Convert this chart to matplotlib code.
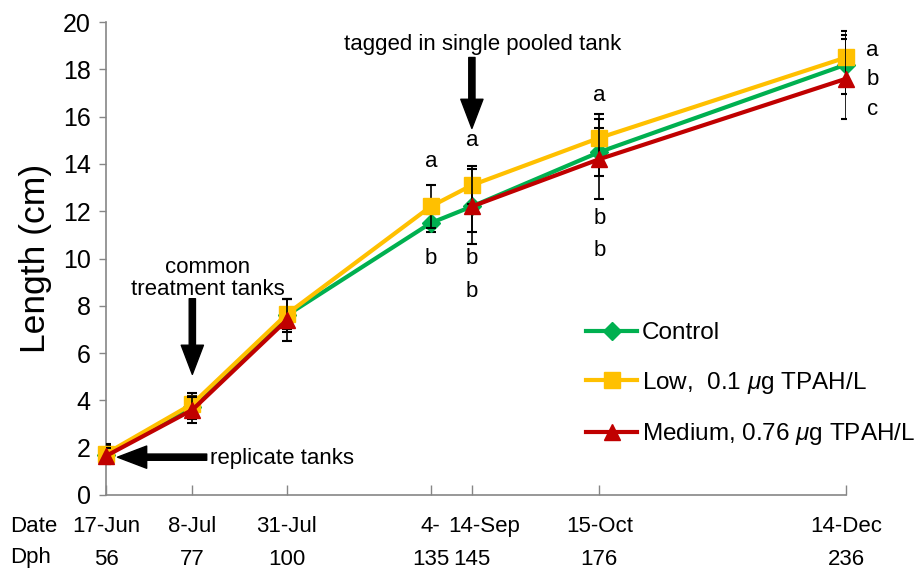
import numpy as np
import matplotlib
matplotlib.use("Agg")
import matplotlib.pyplot as plt

plt.rcParams['font.family'] = ['Liberation Sans', 'DejaVu Sans']
plt.rcParams['mathtext.fontset'] = 'custom'
plt.rcParams['mathtext.it'] = 'Liberation Sans:italic'

# data
dph = [56, 77, 100, 135, 145, 176, 236]
dates = ['17-Jun', '8-Jul', '31-Jul', '4-', '14-Sep', '15-Oct', '14-Dec']

control = [1.7, 3.7, 7.6, 11.5, 12.2, 14.5, 18.2]
low = [1.75, 3.85, 7.65, 12.2, 13.1, 15.1, 18.5]
medium = [1.65, 3.6, 7.4, np.nan, 12.2, 14.2, 17.6]

control_err = [0.4, 0.5, 0.7, 0.4, 1.1, 1.0, 1.25]
low_err = [0.4, 0.45, 0.65, 0.9, 0.8, 1.0, 1.1]
medium_err = [0.35, 0.55, 0.9, np.nan, 1.6, 1.7, 1.7]

# significance letters
letter_x = [135, 135, 145, 145, 145, 176, 176, 176, 242.5, 242.5, 242.5]
letter_y = [14.1, 10.0, 15.0, 10.0, 8.6, 16.9, 11.7, 10.35, 18.8, 17.55, 16.3]
letter_txt = ['a', 'b', 'a', 'b', 'b', 'a', 'b', 'b', 'a', 'b', 'c']

green = '#00B050'
yellow = '#FFC000'
red = '#C00000'
gray = '#868686'

fig = plt.figure(figsize=(9.19, 5.70), dpi=100)
ax = fig.add_axes([106/919, 75/570, 740/919, 473/570])

series = [
    (control, control_err, green, 'D', 9, 'Control'),
    (low, low_err, yellow, 's', 11, 'Low,  0.1 $\\mu$g TPAH/L'),
    (medium, medium_err, red, '^', 12, 'Medium, 0.76 $\\mu$g TPAH/L'),
]
for i, (vals, err, col, mk, ms, lab) in enumerate(series):
    ax.errorbar(dph, vals, yerr=err, fmt='none', ecolor='black', elinewidth=1.2,
                capsize=3.5, capthick=1.5, zorder=2 + i)
    ax.plot(dph, vals, color=col, lw=3, marker=mk, ms=ms, label=lab,
            clip_on=False, zorder=3 + i)

ax.set_xlim(56, 236)
ax.set_ylim(0, 20)
ax.set_yticks(np.arange(0, 21, 2))
ax.tick_params(axis='y', labelsize=18, color=gray, length=5, width=1, pad=6)
ax.set_xticks(dph)
ax.set_xticklabels([str(d) for d in dph])
ax.tick_params(axis='x', labelsize=16, color=gray, direction='in', length=7,
               width=1, pad=39)
for s in ['top', 'right']:
    ax.spines[s].set_visible(False)
for s in ['left', 'bottom']:
    ax.spines[s].set_color(gray)
    ax.spines[s].set_linewidth(1.2)
ax.set_ylabel('Length (cm)', fontsize=25.5, labelpad=8)

# date row
for d, lab in zip(dph, dates):
    dx = 9 if lab == '14-Sep' else 0
    ax.annotate(lab, xy=(d, 0), xycoords=('data', 'axes fraction'),
                xytext=(dx, -23), textcoords='offset points',
                ha='center', va='center', fontsize=16)
fig.text(10/919, 1 - 526/570, 'Date', fontsize=16, ha='left', va='center')
fig.text(10/919, 1 - 557/570, 'Dph', fontsize=16, ha='left', va='center')

for x, y, t in zip(letter_x, letter_y, letter_txt):
    ax.text(x, y, t, fontsize=16, ha='center', va='center')

arrow = 'simple,head_length=2.1,head_width=1.6,tail_width=0.45'
ax.annotate('', xy=(77, 5.1), xytext=(77, 8.3),
            arrowprops=dict(arrowstyle=arrow, color='black', mutation_scale=10,
                            shrinkA=0, shrinkB=0))
ax.annotate('', xy=(145, 15.5), xytext=(145, 18.5),
            arrowprops=dict(arrowstyle=arrow, color='black', mutation_scale=10,
                            shrinkA=0, shrinkB=0), annotation_clip=False)
ax.annotate('', xy=(58.8, 1.6), xytext=(80.5, 1.6),
            arrowprops=dict(arrowstyle=arrow, color='black', mutation_scale=10,
                            shrinkA=0, shrinkB=0))
ax.text(80.8, 9.6, 'common', fontsize=16, ha='center', va='center')
ax.text(80.8, 8.7, 'treatment tanks', fontsize=16, ha='center', va='center')
ax.text(147.5, 19.05, 'tagged in single pooled tank', fontsize=16,
        ha='center', va='center')
ax.text(81.2, 1.55, 'replicate tanks', fontsize=16, ha='left', va='center')

ax.legend(loc='upper left', bbox_to_anchor=(586/919, 1 - 322/570),
          bbox_transform=fig.transFigure, frameon=False, fontsize=17.5,
          borderpad=0, borderaxespad=0, handlelength=2.1, handletextpad=0.2,
          labelspacing=1.05, numpoints=1)

fig.savefig('out.png', dpi=100)
